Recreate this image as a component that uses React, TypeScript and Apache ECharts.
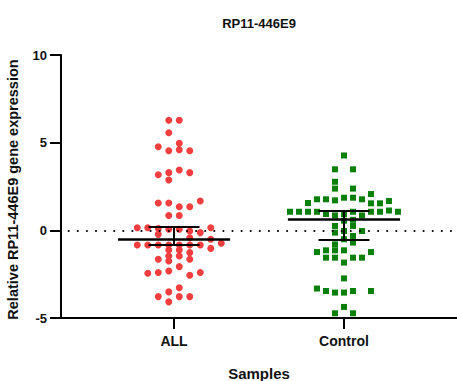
import React, { useEffect, useRef } from "react";
import * as echarts from "echarts";

const TITLE = "RP11-446E9";
const Y_NAME = "Relative RP11-446E9 gene expression";
const X_NAME = "Samples";
const CATEGORIES = ["ALL", "Control"];
const Y_TICKS = [-5, 0, 5, 10];

// ALL group: values and beeswarm slot (half-column offsets)
const ALL_VALUES = [
  6.28, 6.28, 5.57, 4.77, 4.96, 4.54, 4.6, 4.54,
  3.17, 3.29, 3.44, 3.29, 2.87,
  1.56, 1.56, 1.35, 1.35, 1.67,
  0.85, 0.85,
  0.15, 0.15, 0.1, 0.06, 0.06, -0.04, -0.13, 0.15,
  -0.23, -0.51, -0.42,
  -0.84, -0.84, -0.84, -0.84, -0.84, -0.84, -0.84, -1.03, -0.74,
  -1.12, -1.12, -1.27,
  -1.65, -1.46, -1.46, -1.65,
  -1.75, -2.07,
  -2.45, -2.41, -2.32, -2.56, -2.41,
  -3.27, -3.51, -3.78, -3.78, -3.78, -4.08,
];
const ALL_SLOTS = [
  -0.5, 0.5, -0.5, -1.5, 0.5, -0.5, 0.5, 1.5,
  -1.5, -0.5, 0.5, 1.5, -0.5,
  -1.5, -0.5, 0.5, 1.5, 2.5,
  -0.5, 0.5,
  -3.5, -2.5, -1.5, -0.5, 0.5, 1.5, 2.5, 3.5,
  -1.5, 3.5, 1.5,
  -3.5, -2.5, -1.5, -0.5, 0.5, 1.5, 2.5, 3.5, 4.5,
  -0.5, 0.5, 1.5,
  -1.5, -0.5, 0.5, 1.5,
  -0.5, 0.5,
  -2.5, -1.5, -0.5, 1.5, 2.5,
  0.5, -0.5, -1.5, 0.5, 1.5, -0.5,
];

// Control group
const CONTROL_VALUES = [
  4.27, 3.48, 3.48, 2.77, 2.38, 2.38, 2.07,
  1.86, 1.86, 1.77, 1.77, 1.71, 1.77,
  1.56, 1.54, 1.54, 1.67,
  1.06, 1.06, 1.06, 1.06, 1.06, 1.06, 1.06, 1.13, 1.06,
  0.93, 0.85, 0.93, 0.85,
  0.55, 0.6,
  0.25, 0.25,
  -0.04, -0.13, -0.32, -0.04,
  -0.51, -0.7, -0.8,
  -1.14, -1.14, -1.14, -1.24, -1.24,
  -1.56, -1.56, -1.56, -1.56,
  -1.84, -2.74,
  -3.32, -3.46, -3.55, -3.55, -3.46, -3.46,
  -4.37, -4.73, -4.73,
];
const CONTROL_SLOTS = [
  0, -1, 1, -1, -1, 1, 3,
  0, 1, -3, -2, -1, 2,
  -4, 3, 4, 5,
  -6, -5, -4, -3, 1, 3, 4, 5, 6,
  -2, -1, 0, 2,
  0, 1,
  -1, 1,
  0, -1, 1, 2,
  0, 1, -1,
  -2, -1, 0, -3, 3,
  -2, -1, 1, 2,
  0, 0,
  -3, -2, -1, 0, 1, 3,
  0, -1, 1,
];

// [center line, upper cap, lower cap]
const ALL_SUMMARY = [-0.5, 0.19, -0.84];
const CONTROL_SUMMARY = [0.65, 1.09, -0.52];

const RED = "#f23e3e";
const GREEN = "#0a800a";

export default function App() {
  const ref = useRef<HTMLDivElement>(null);
  useEffect(() => {
    document.body.style.margin = "0";
    if (!ref.current) return;
    const chart = echarts.init(ref.current, null, { renderer: "svg" });

    const redStep = 10.5 / 170;
    const greenStep = 9 / 170;
    const redData = ALL_VALUES.map((v, i) => [0 + ALL_SLOTS[i] * redStep, v]);
    const greenData = CONTROL_VALUES.map((v, i) => [1 + CONTROL_SLOTS[i] * greenStep, v]);

    const summaryLines = (c: number, s: number[]) => {
      const wide = 0.33;
      const cap = 0.15;
      return [
        [{ coord: [c - wide, s[0]], lineStyle: { width: 2.6 } }, { coord: [c + wide, s[0]] }],
        [{ coord: [c - cap, s[1]] }, { coord: [c + cap, s[1]] }],
        [{ coord: [c - cap, s[2]] }, { coord: [c + cap, s[2]] }],
        [{ coord: [c, s[1]] }, { coord: [c, s[2]] }],
      ];
    };

    const bold = { fontFamily: "Liberation Sans, Arial, sans-serif", fontWeight: "bold" as const, color: "#111" };

    chart.setOption({
      animation: false,
      grid: { left: 61, right: 0, top: 55, bottom: 63, containLabel: false, outerBoundsMode: "none" },
      graphic: [
        {
          type: "text",
          x: 259,
          y: 23,
          style: { text: TITLE, ...bold, fontSize: 13, fill: "#111", textAlign: "center", textVerticalAlign: "middle" },
        },
      ],
      xAxis: {
        type: "value",
        min: -0.665,
        max: 1.665,
        name: X_NAME,
        nameLocation: "middle",
        nameGap: 48,
        nameTextStyle: { ...bold, fontSize: 15 },
        axisLine: { onZero: false, lineStyle: { color: "#000", width: 2 } },
        axisTick: { length: 11, customValues: [0, 1], lineStyle: { color: "#000", width: 2 } },
        axisLabel: {
          customValues: [0, 1],
          formatter: (v: number) => CATEGORIES[Math.round(v)] ?? "",
          ...bold,
          fontSize: 14,
          margin: 16,
        },
        splitLine: { show: false },
      },
      yAxis: {
        type: "value",
        min: Y_TICKS[0],
        max: Y_TICKS[Y_TICKS.length - 1],
        interval: 5,
        name: Y_NAME,
        nameLocation: "middle",
        nameGap: 41,
        nameTextStyle: { ...bold, fontSize: 14.5, padding: [0, 6, 0, 0] },
        axisLine: { show: true, onZero: false, lineStyle: { color: "#000", width: 2 } },
        axisTick: { show: true, length: 11, lineStyle: { color: "#000", width: 2 } },
        axisLabel: { ...bold, fontSize: 13, margin: 14 },
        splitLine: { show: false },
      },
      series: [
        {
          type: "scatter",
          data: redData,
          symbol: "circle",
          symbolSize: 7,
          itemStyle: { color: RED, opacity: 1 },
          z: 2,
          markLine: {
            silent: true,
            symbol: "none",
            label: { show: false },
            lineStyle: { color: "#000", width: 2, type: [0.1, 9], cap: "round" },
            data: [[{ coord: [-0.62, 0] }, { coord: [1.64, 0] }]],
          },
        },
        {
          type: "scatter",
          data: greenData,
          symbol: "rect",
          symbolSize: 6,
          itemStyle: { color: GREEN, opacity: 1 },
          z: 2,
        },
        {
          type: "scatter",
          data: [],
          z: 5,
          markLine: {
            silent: true,
            symbol: "none",
            label: { show: false },
            lineStyle: { color: "#000", width: 2, type: "solid" },
            data: [...summaryLines(0, ALL_SUMMARY), ...summaryLines(1, CONTROL_SUMMARY)],
          },
        },
      ],
    });
    return () => chart.dispose();
  }, []);
  return <div ref={ref} style={{ width: 457, height: 381 }} />;
}
